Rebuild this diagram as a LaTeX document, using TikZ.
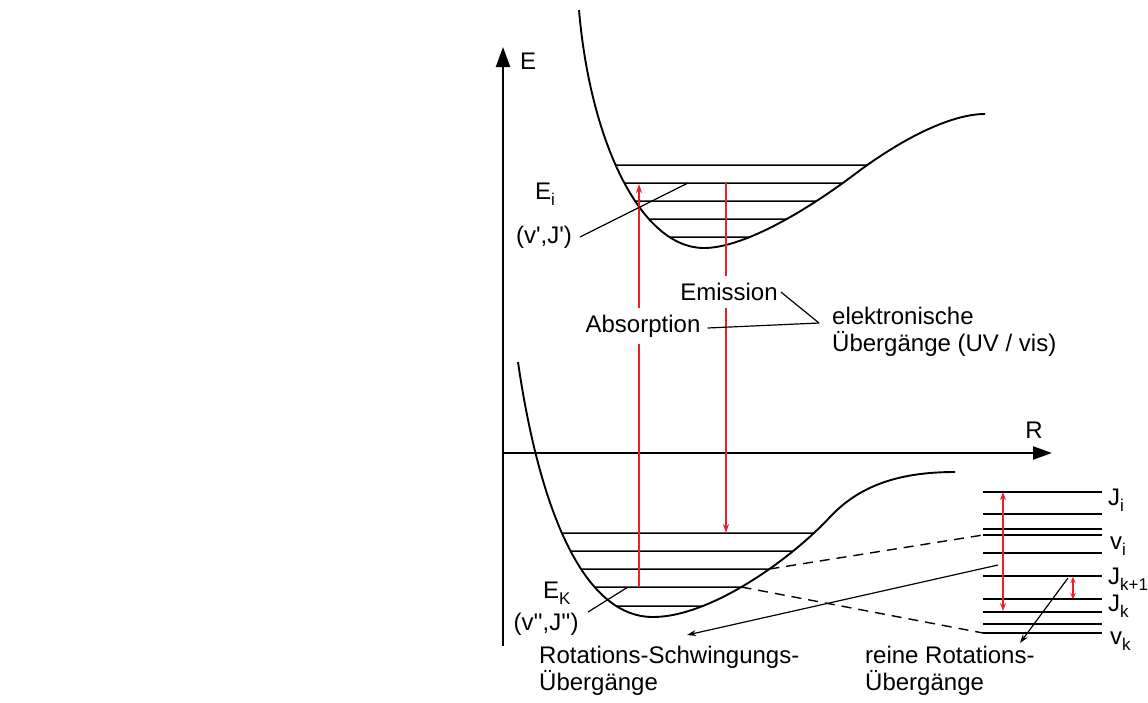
\documentclass[tikz,border=0pt]{standalone}
\usepackage{fontspec}
\setmainfont{Liberation Sans}
\usetikzlibrary{arrows.meta,intersections}
\definecolor{arrred}{RGB}{232,32,44}
\newcommand{\lsub}[1]{\raisebox{-0.5ex}{\fontsize{17}{17}\selectfont #1}}
\newcommand{\pr}{\textquotesingle}
\begin{document}
\begin{tikzpicture}[x=1pt,y=-1pt,
  lbl/.style={font=\fontsize{24}{27}\selectfont, inner sep=0pt},
  gaplbl/.style={lbl, fill=white, inner xsep=1pt, inner ysep=7pt},
  blocklbl/.style={lbl, align=left, anchor=west},
  axisline/.style={line width=2.2pt},
  pot/.style={line width=1.9pt},
  lev/.style={line width=1.5pt},
  levthick/.style={line width=2.3pt},
  lead/.style={line width=1.2pt},
  leadarr/.style={line width=1.2pt, -{Stealth[length=9pt,width=6pt]}},
  dashline/.style={line width=1.4pt, dash pattern=on 10pt off 7pt},
  redarr/.style={draw=arrred, line width=1.8pt, -{Stealth[length=9pt,width=6pt]}},
  redarrtwo/.style={draw=arrred, line width=1.8pt, {Stealth[length=8pt,width=6pt]}-{Stealth[length=8pt,width=6pt]}}]
\useasboundingbox (0,0) rectangle (1148,702);

% axes
\coordinate (Eo) at (503,646);
\coordinate (Etip) at (503,47);
\coordinate (Ro) at (503,453);
\coordinate (Rtip) at (1052,453);
\draw[axisline,-{Triangle[length=20pt,width=14pt]}] (Eo) -- (Etip);
\draw[axisline,-{Triangle[length=19pt,width=13pt]}] (Ro) -- (Rtip);
\node[lbl] (Elbl) at (528,61) {E};
\node[lbl] (Rlbl) at (1034,430) {R};

% upper potential
\draw[pot, name path=upcurve] (579,10) .. controls (590,140) and (640,248) .. (704,248)
  .. controls (745,248) and (810,208) .. (855,174)
  .. controls (900,140) and (950,114) .. (985,114);
\foreach \y [count=\k] in {165,183,201,219,237} {
  \path[name path=hl] (560,\y) -- (1000,\y);
  \path[name intersections={of=hl and upcurve, sort by=hl, by={U\k l,U\k r}}];
  \draw[lev] (U\k l) -- (U\k r);
}

% lower potential
\draw[pot, name path=locurve] (518,362) .. controls (538,500) and (580,617) .. (653,617)
  .. controls (710,617) and (790,560) .. (830,517)
  .. controls (860,485) and (900,472) .. (955,472);
\foreach \y [count=\k] in {533,551,569,587,606} {
  \path[name path=hl] (540,\y) -- (1000,\y);
  \path[name intersections={of=hl and locurve, sort by=hl, by={L\k l,L\k r}}];
  \draw[lev] (L\k l) -- (L\k r);
}

% electronic transitions
\coordinate (absB) at (639,587);
\coordinate (absT) at (639,184);
\coordinate (emT) at (726,183);
\coordinate (emB) at (726,533);
\draw[redarr] (absB) -- (absT);
\draw[redarr] (emT) -- (emB);
\node[gaplbl] (abs) at (643,326) {Absorption};
\node[gaplbl] (emis) at (729,292) {Emission};
\coordinate (conv) at (819,323);
\draw[lead] ([xshift=2pt]emis.east) -- (conv);
\draw[lead] ([xshift=6pt,yshift=-2pt]abs.east) -- (conv);
\node[blocklbl] (elek) at (832,332) {elektronische\\Übergänge (UV / vis)};

% state labels
\node[lbl, anchor=base west] (Ei) at (535,199) {E\lsub{i}};
\node[lbl] (vJ1) at (544,237) {(v\pr,J\pr)};
\coordinate (vJ1a) at (580,237);
\coordinate (vJ1b) at (688,183);
\draw[lead] (vJ1a) -- (vJ1b);
\node[lbl, anchor=base west] (EK) at (543,598) {E\lsub{K}};
\node[lbl] (vJ2) at (546,624) {(v\pr\pr,J\pr\pr)};
\coordinate (vJ2a) at (588,612);
\coordinate (vJ2b) at (628,587);
\draw[lead] (vJ2a) -- (vJ2b);

% rotational ladder
\foreach \y/\s in {492/levthick,514/lev,529/lev,535/levthick,553/lev,576/lev,599/lev,612/lev,624/lev,633/levthick} {
  \draw[\s] (983,\y) -- (1102,\y);
}
\coordinate (vi) at (983,535);
\coordinate (vk) at (983,633);
\draw[dashline] (L3r) -- (vi);
\draw[dashline] (L4r) -- (vk);
\node[lbl, anchor=base west] (Ji) at (1108,505) {J\lsub{i}};
\node[lbl, anchor=base west] (vil) at (1110,549) {v\lsub{i}};
\node[lbl, anchor=base west] (Jk1) at (1108,584) {J\lsub{k+1}};
\node[lbl, anchor=base west] (Jk) at (1108,611) {J\lsub{k}};
\node[lbl, anchor=base west] (vkl) at (1110,644) {v\lsub{k}};

\coordinate (bigT) at (1003,492);
\coordinate (bigB) at (1003,611);
\draw[redarrtwo] (bigT) -- (bigB);
\coordinate (smT) at (1073,577);
\coordinate (smB) at (1073,599);
\draw[redarrtwo, {Stealth[length=6pt,width=5.5pt]}-{Stealth[length=6pt,width=5.5pt]}] (smT) -- (smB);

% rotational leaders
\node[blocklbl] (rs) at (539,671) {Rotations-Schwingungs-\\Übergänge};
\node[blocklbl] (rr) at (865,671) {reine Rotations-\\Übergänge};
\coordinate (rsStart) at (998,565);
\coordinate (rsEnd) at (687,635);
\draw[leadarr] (rsStart) -- (rsEnd);
\coordinate (rrStart) at (1068,578);
\coordinate (rrEnd) at (1020,643);
\draw[leadarr] (rrStart) -- (rrEnd);
\end{tikzpicture}
\end{document}
